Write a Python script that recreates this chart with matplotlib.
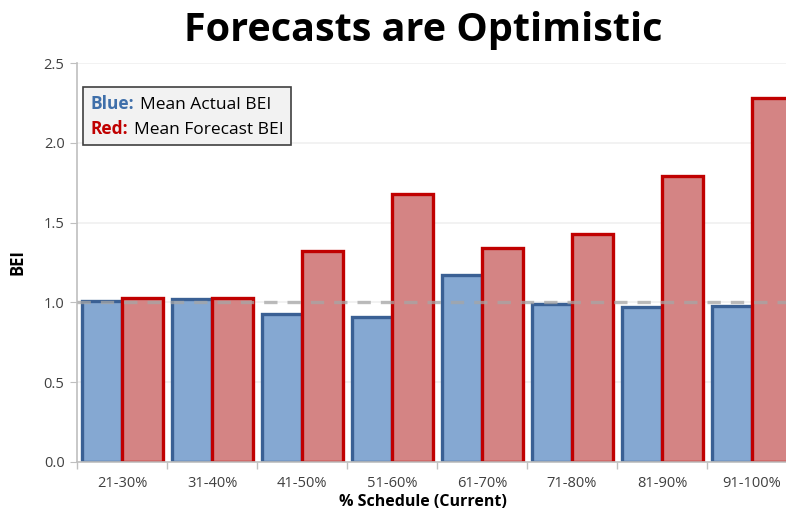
import numpy as np
import matplotlib
matplotlib.use('Agg')
import matplotlib.pyplot as plt
from matplotlib.offsetbox import TextArea, HPacker, VPacker, AnchoredOffsetbox

# data
categories = ['21-30%', '31-40%', '41-50%', '51-60%', '61-70%', '71-80%', '81-90%', '91-100%']
actual_bei = [1.01, 1.02, 0.93, 0.91, 1.17, 0.99, 0.97, 0.98]
forecast_bei = [1.03, 1.03, 1.32, 1.68, 1.34, 1.43, 1.79, 2.28]
y_ticks = [0.0, 0.5, 1.0, 1.5, 2.0, 2.5]

plt.rcParams['font.family'] = ['Open Sans', 'DejaVu Sans']

fig = plt.figure(figsize=(7.86, 5.12), dpi=100)
ax = fig.add_axes([0.098, 0.0977, 0.916, 0.779])

x = np.arange(len(categories))
w = 0.45
ax.bar(x - w / 2, actual_bei, w, color='#85A8D2', edgecolor='#3A6094', linewidth=2.4, zorder=2)
ax.bar(x + w / 2, forecast_bei, w, color='#D48484', edgecolor='#C00000', linewidth=2.4, zorder=2)

# reference line at 1.0 drawn over the bars
ax.axhline(1.0, color='#A6A6A6', linestyle=(0, (4, 3)), linewidth=2.4, alpha=0.75, zorder=3)

ax.set_xlim(-0.5, len(categories) - 0.5)
ax.set_ylim(0, 2.5)
ax.set_yticks(y_ticks)
ax.set_yticklabels([f'{v:.1f}' for v in y_ticks])
ax.set_xticks(x)
ax.set_xticklabels(categories)
ax.set_xticks(np.arange(len(categories) + 1) - 0.5, minor=True)
ax.tick_params(axis='x', which='major', length=0, pad=10, labelsize=10.5, colors='#404040')
ax.tick_params(axis='x', which='minor', length=5, color='#BFBFBF', width=1)
ax.tick_params(axis='y', length=5, color='#BFBFBF', labelsize=10.5, labelcolor='#404040', pad=4)

ax.grid(axis='y', color='#F0F0F0', linewidth=1.2, zorder=0)
ax.set_axisbelow(True)
for s in ['top', 'right']:
    ax.spines[s].set_visible(False)
for s in ['left', 'bottom']:
    ax.spines[s].set_color('#BFBFBF')
    ax.spines[s].set_linewidth(1.2)

ax.set_ylabel('BEI', fontsize=12, fontweight='bold', labelpad=12)
ax.set_xlabel('% Schedule (Current)', fontsize=11.5, fontweight='bold', va='center')
ax.xaxis.set_label_coords(0.48, -0.1)

fig.suptitle('Forecasts are Optimistic', fontsize=28.5, fontweight='bold', x=0.538, y=0.978)

# legend-like text box
line1 = HPacker(children=[
    TextArea('Blue:', textprops=dict(color='#3F6FAA', fontweight='bold', fontsize=12.5)),
    TextArea('Mean Actual BEI', textprops=dict(color='black', fontsize=12.5)),
], align='baseline', pad=0, sep=4)
line2 = HPacker(children=[
    TextArea('Red:', textprops=dict(color='#C00000', fontweight='bold', fontsize=12.5)),
    TextArea('Mean Forecast BEI', textprops=dict(color='black', fontsize=12.5)),
], align='baseline', pad=0, sep=4)
box = VPacker(children=[line1, line2], align='left', pad=0, sep=5)
anchored = AnchoredOffsetbox(loc='upper left', child=box, pad=0.55, borderpad=0,
                             frameon=True, bbox_to_anchor=(0.0085, 0.94),
                             bbox_transform=ax.transAxes)
anchored.patch.set_facecolor('#F2F2F2')
anchored.patch.set_edgecolor('#404040')
anchored.patch.set_linewidth(1.2)
anchored.patch.set_boxstyle('square', pad=0)
ax.add_artist(anchored)

fig.savefig('out.png', dpi=100)
